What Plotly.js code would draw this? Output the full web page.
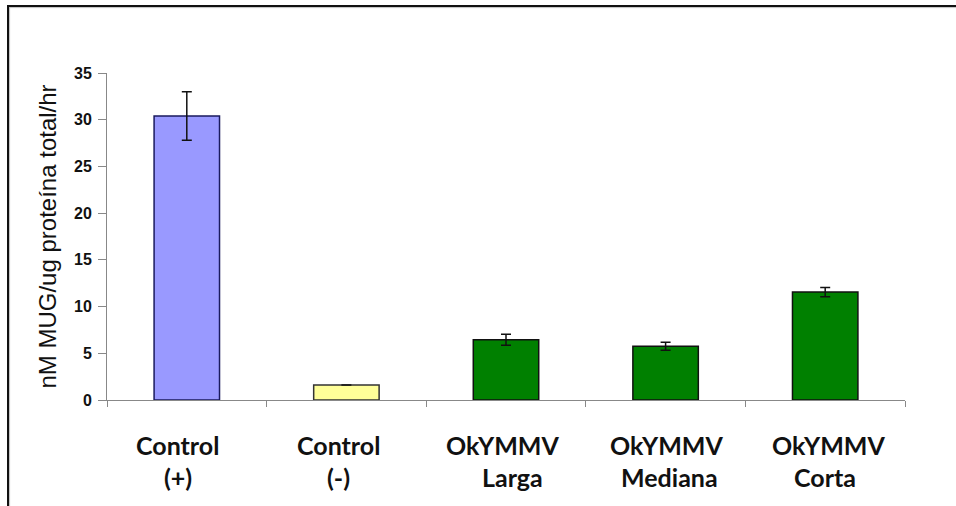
<!DOCTYPE html>
<html>
<head>
<meta charset="utf-8">
<script src="https://cdn.plot.ly/plotly-3.0.1.min.js"></script>
<style>
  html, body { margin: 0; padding: 0; background: #ffffff; }
  #wrap { position: relative; width: 956px; height: 506px; overflow: hidden; }
  #chart { width: 956px; height: 506px; }
  #frame { position: absolute; left: 7px; top: 5px; width: 960px; height: 520px;
           border-top: 2px solid #111; border-left: 2px solid #111; pointer-events: none;
           box-shadow: inset 1px 1px 1px rgba(0,0,0,0.25); }
</style>
</head>
<body>
<div id="wrap">
  <div id="chart"></div>
  <div id="frame"></div>
</div>
<script>
// ---- data ----
const categories = ["c1", "c2", "c3", "c4", "c5"];
const labelLine1 = ["Control", "Control", "OkYMMV", "OkYMMV", "OkYMMV"];
const labelLine2 = ["(+)", "(-)", "Larga", "Mediana", "Corta"];
const values = [30.4, 1.6, 6.45, 5.75, 11.55];
const errors = [2.6, null, 0.6, 0.42, 0.5];
const yTitle = "nM MUG/ug proteína total/hr";

// ---- styles ----
const fillColors = ["#9999FF", "#FFFF99", "#008000", "#008000", "#008000"];
const lineColors = ["#1a1a5e", "#333333", "#111111", "#111111", "#111111"];
const shift1 = [-9, -8, -4, 1, 3];
const shift2 = [-9, -8, 6, 4, 0];

const trace = {
  type: "bar",
  x: categories,
  y: values,
  width: 0.41,
  marker: { color: fillColors, line: { color: lineColors, width: 1.5 } },
  error_y: { type: "data", array: errors, visible: true, color: "#111111", thickness: 1.5, width: 5 },
  hoverinfo: "skip"
};

const annotations = [];
categories.forEach((c, i) => {
  annotations.push({ x: c, xref: "x", y: 0, yref: "paper", text: labelLine1[i], showarrow: false,
    xanchor: "center", yanchor: "middle", yshift: -45, xshift: shift1[i],
    font: { family: "Lato", size: 25, weight: 700, color: "#111111" } });
  annotations.push({ x: c, xref: "x", y: 0, yref: "paper", text: labelLine2[i], showarrow: false,
    xanchor: "center", yanchor: "middle", yshift: -77, xshift: shift2[i],
    font: { family: "Lato", size: 25, weight: 700, color: "#111111" } });
});

const layout = {
  width: 956, height: 506,
  margin: { l: 107, r: 51, t: 73, b: 106, pad: 0 },
  paper_bgcolor: "#ffffff", plot_bgcolor: "#ffffff",
  showlegend: false,
  bargap: 0.59,
  xaxis: {
    type: "category",
    showticklabels: false,
    showline: true, linecolor: "#888888", linewidth: 1,
    ticks: "outside", tickson: "boundaries", ticklen: 6, tickcolor: "#888888",
    showgrid: false, zeroline: false, fixedrange: true
  },
  yaxis: {
    range: [0, 35], dtick: 5, tick0: 0,
    showline: true, linecolor: "#888888", linewidth: 1,
    ticks: "outside", ticklen: 8, tickcolor: "#888888",
    ticklabelstandoff: 3,
    tickfont: { family: "Liberation Sans", size: 16, weight: 700, color: "#111111" },
    showgrid: false, zeroline: false, fixedrange: true,
    title: { text: yTitle, standoff: 10, font: { family: "Liberation Sans", size: 24, color: "#111111" } },
    automargin: false
  },
  annotations: annotations
};

Plotly.newPlot("chart", [trace], layout, { displayModeBar: false, staticPlot: true });
</script>
</body>
</html>
